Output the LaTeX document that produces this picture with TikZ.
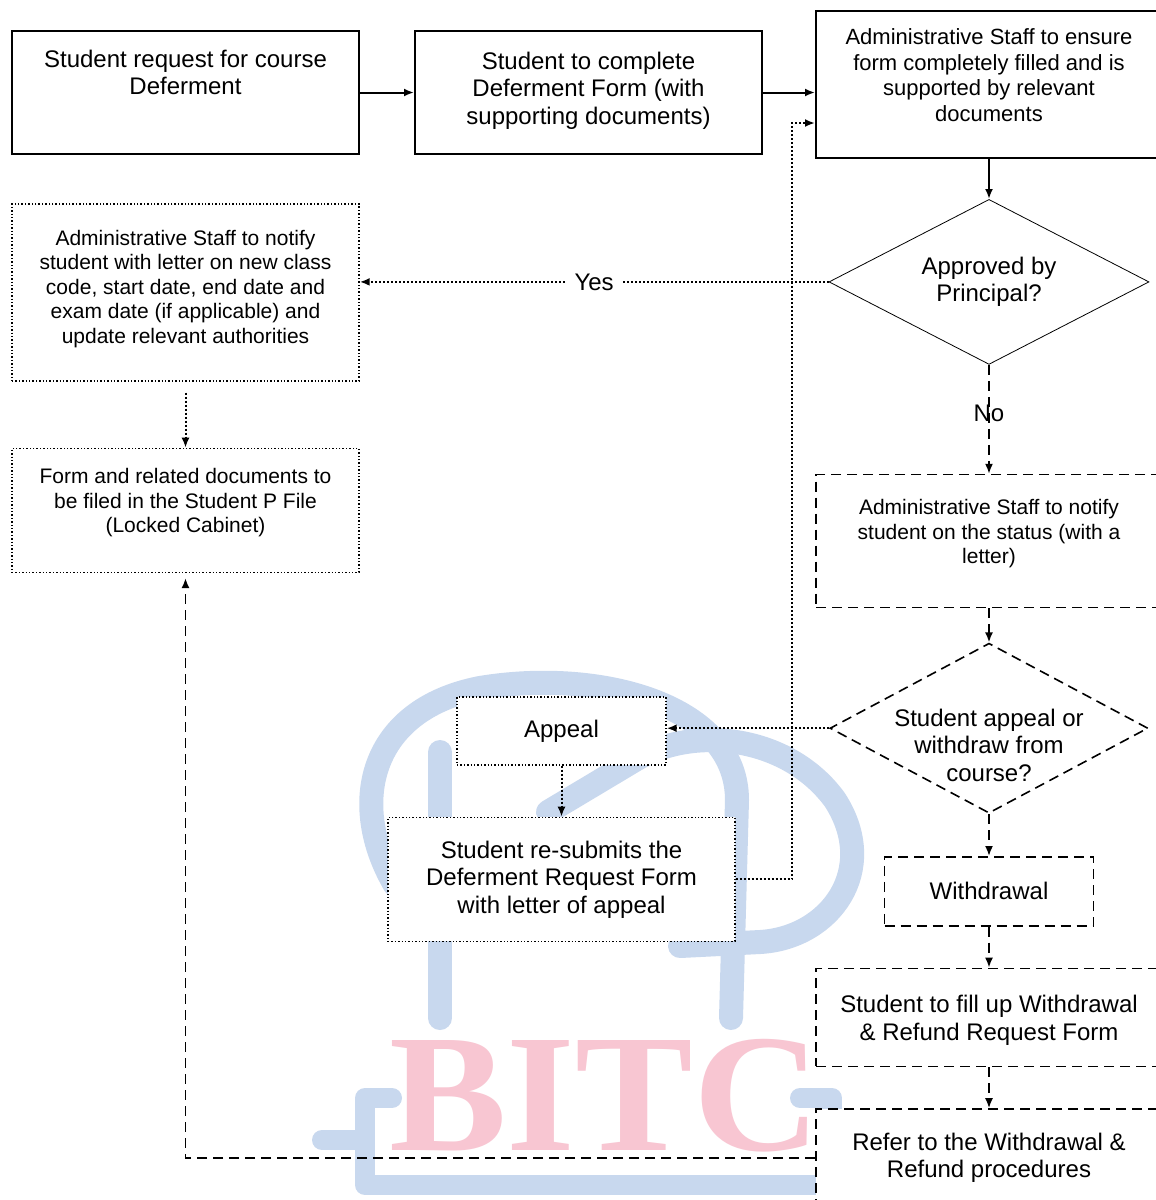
\documentclass[tikz,border=0pt]{standalone}
\usepackage{fontspec}
\setmainfont{Liberation Sans}
\newfontfamily\logofont{Liberation Serif}
\usepackage{tikz}
\usetikzlibrary{shapes.geometric,positioning,arrows.meta}

\definecolor{logoblue}{RGB}{200,216,238}
\definecolor{logopink}{RGB}{248,198,210}

% text block at the top of a box: width, height, top pad, text
\newcommand{\boxtext}[4]{\parbox[c][#2][t]{#1}{\centering\vspace*{#3}#4\par}}

\tikzset{
	big/.style={font=\fontsize{12}{13.75}\selectfont},
	mid/.style={font=\fontsize{11}{12.75}\selectfont},
	small/.style={font=\fontsize{10.5}{12.25}\selectfont},
	solidbox/.style={draw,line width=1pt,fill=white,inner sep=0pt},
	dotbox/.style={draw,line width=0.7pt,densely dotted,fill=white,inner sep=0pt},
	dashbox/.style={draw,line width=0.8pt,dash pattern=on 5pt off 3pt,fill=white,inner sep=0pt},
	decision/.style={diamond,draw,fill=white,inner sep=0pt},
	solidline/.style={-{Latex[length=5pt,width=4pt]},line width=1pt},
	dotline/.style={-{Latex[length=5pt,width=4pt]},line width=1pt,densely dotted},
	dashline/.style={-{Latex[length=5pt,width=4pt]},line width=0.9pt,dash pattern=on 5pt off 3pt}
}

\begin{document}
\begin{tikzpicture}[x=0.5pt,y=-0.5pt]
		\useasboundingbox (0,0) rectangle (1156,1200);
		\clip (0,0) rectangle (1156,1200);
		\fill[white] (0,0) rectangle (1156,1200);
		% watermark
		\begin{scope}[logoblue,line width=12pt,line cap=round,line join=round]
			\draw (440,752) -- (440,1018);
			\draw (395,885) .. controls (348,805) and (368,710) .. (480,688) .. controls (600,668) and (737,705) .. (737,800) -- (731,1018);
			\draw (548,812) -- (640,757) .. controls (700,725) and (790,738) .. (835,800) .. controls (880,870) and (830,938) .. (760,942) -- (680,946);
		\end{scope}
		\begin{scope}[logoblue,line width=10pt,line cap=round,line join=round]
			\draw (392,1098) -- (365,1098) -- (365,1185) -- (830,1185);
			\draw (322,1140) -- (358,1140);
			\draw (800,1098) -- (832,1098) -- (832,1140);
		\end{scope}
		\node[logopink,font=\logofont\bfseries\fontsize{84}{84}\selectfont,anchor=base,xscale=1.05] (logo) at (605,1150) {BITC};

		% top row
		\node[solidbox,big] (req) at (185.5,92.5) {\boxtext{173.5pt}{61.5pt}{9.4pt}{Student request for course\\Deferment}};
		\node[solidbox,big,right=27pt of req] (form) {\boxtext{173.5pt}{61.5pt}{10.4pt}{Student to complete\\Deferment Form (with\\supporting documents)}};
		\node[solidbox,mid,right=26pt of form,yshift=4pt] (check) {\boxtext{173pt}{73.5pt}{9pt}{Administrative Staff to ensure\\form completely filled and is\\supported by relevant\\documents}};

		% right column
		\node[decision,minimum width=160pt,minimum height=82.5pt,below=20pt of check,
			label={[big,align=center]center:Approved by\\Principal?}] (approve) {};
		\node[dashbox,small,below=54.5pt of approve] (notify) {\boxtext{173pt}{66.5pt}{12.5pt}{Administrative Staff to notify\\student on the status (with a\\letter)}};
		\node[decision,dash pattern=on 5pt off 3pt,line width=0.8pt,minimum width=159pt,minimum height=85pt,below=17pt of notify,
			label={[big,align=center,yshift=-8.5pt]center:Student appeal or\\withdraw from\\course?}] (choose) {};
		\node[dashbox,big,minimum width=104.5pt,minimum height=34.5pt,below=21pt of choose] (withdraw) {Withdrawal};
		\node[dashbox,big,below=20.5pt of withdraw] (refund) {\boxtext{173pt}{49pt}{13.4pt}{Student to fill up Withdrawal\\\& Refund Request Form}};
		\node[dashbox,big,below=20.5pt of refund] (refer) {\boxtext{173pt}{49pt}{12pt}{Refer to the Withdrawal \&\\Refund procedures}};

		% left column
		\node[dotbox,small] (inform) at (185.5,292.5) {\boxtext{173.5pt}{88.5pt}{13pt}{Administrative Staff to notify\\student with letter on new class\\code, start date, end date and\\exam date (if applicable) and\\update relevant authorities}};
		\node[dotbox,small,below=33pt of inform] (filed) {\boxtext{173.5pt}{62pt}{10pt}{Form and related documents to\\be filed in the Student P File\\(Locked Cabinet)}};

		% appeal
		\node[dotbox,big,minimum width=104.5pt,minimum height=34pt] (appeal) at (561.5,731) {Appeal};
		\node[dotbox,big,below=25.5pt of appeal] (resubmit) {\boxtext{173.5pt}{62pt}{11.8pt}{Student re-submits the\\Deferment Request Form\\with letter of appeal}};
		\coordinate (back) at (792,123);

		\draw[solidline] (req) -- (form);
		\draw[solidline] (form.east) -- (form.east -| check.west);
		\draw[solidline] (check) -- (approve);
		\draw[dotline] (approve.west) -- node[fill=white,big,inner sep=4pt]{Yes} (approve.west -| inform.east);
		\draw[dotline,shorten <=5.5pt] (inform) -- (filed);
		\draw[dashline] (approve) -- node[pos=0.45,big]{No} (notify);
		\draw[dashline] (notify) -- (choose);
		\draw[dotline] (choose.west) -- (choose.west -| appeal.east);
		\draw[dotline] (appeal) -- (resubmit);
		\draw[dotline] (resubmit.east) -| (back) -- (back -| check.west);
		\draw[dashline] (choose) -- (withdraw);
		\draw[dashline] (withdraw) -- (refund);
		\draw[dashline] (refund) -- (refer);
		\draw[dashline,shorten >=2.5pt] (refer.west) -| (filed.south);
	\end{tikzpicture}
\end{document}
